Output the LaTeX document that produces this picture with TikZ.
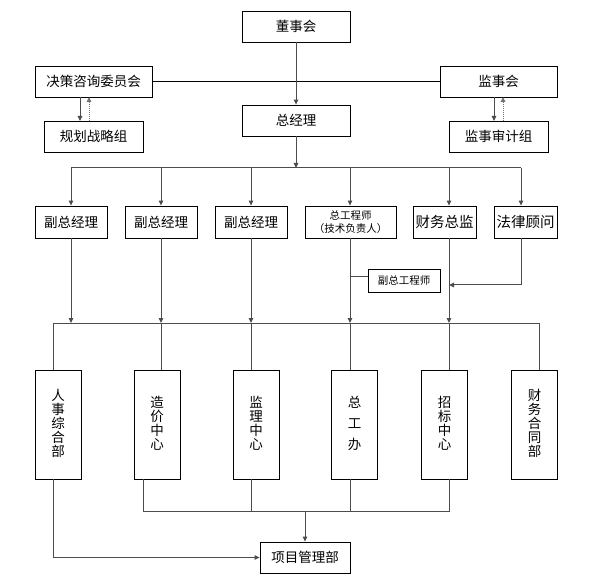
\documentclass[tikz,border=0pt]{standalone}
\usepackage{fontspec}
\setmainfont{Noto Sans CJK SC}
\usetikzlibrary{arrows.meta}
\newcommand\vc[3]{\raisebox{0pt}[#1][#2]{#3}}
\newcommand\vstack[1]{\vbox{\offinterlineskip\halign{\hfil##\hfil\cr #1\crcr}}}
\begin{document}
\begin{tikzpicture}[x=1pt,y=-1pt,
  box/.style={draw=black,line width=0.8pt,inner sep=0pt,align=center,font=\fontsize{13.5}{15}\selectfont},
  vbox/.style={draw=black,line width=0.8pt,inner sep=0pt,minimum width=46pt,minimum height=109pt,font=\fontsize{13.5}{14}\selectfont},
  small/.style={font=\fontsize{10.5}{13}\selectfont},
  conn/.style={draw=black!70,line width=1pt},
  arr/.style={conn,-{Triangle[length=5pt,width=4.5pt]}},
  darr/.style={draw=black!55,line width=1pt,densely dotted,-{Triangle[length=5pt,width=4.5pt]}}]
\useasboundingbox[fill=white] (0,0) rectangle (592,588);

% top level
\node[box,minimum width=108pt,minimum height=31pt] (dsh) at (296,26.5) {董事会};
\node[box,minimum width=117pt,minimum height=31pt] (jc) at (93.5,81.5) {决策咨询委员会};
\node[box,minimum width=99pt,minimum height=31pt] (gh) at (93.5,136.5) {规划战略组};
\node[box,minimum width=117pt,minimum height=31pt] (js) at (498.5,81.5) {监事会};
\node[box,minimum width=99pt,minimum height=31pt] (sj) at (498.5,136.5) {监事审计组};
\node[box,minimum width=108pt,minimum height=31pt] (zjl) at (296,120.5) {总经理};

% second level
\node[box,minimum width=72pt,minimum height=32pt] (f1) at (71,222) {副总经理};
\node[box,minimum width=72pt,minimum height=32pt] (f2) at (161,222) {副总经理};
\node[box,minimum width=72pt,minimum height=32pt] (f3) at (251,222) {副总经理};
\node[box,small,minimum width=91pt,minimum height=32pt] (zgc) at (350.5,222) {总工程师\\（技术负责人）};
\node[box,minimum width=63pt,minimum height=32pt,font=\fontsize{14.5}{16}\selectfont] (cw) at (444.5,222) {财务总监};
\node[box,minimum width=63pt,minimum height=32pt,font=\fontsize{14.5}{16}\selectfont] (fl) at (525.5,222) {法律顾问};
\node[box,small,minimum width=72pt,minimum height=23pt] (fzg) at (404,280.5) {副总工程师};

% bottom level
\node[vbox] (rs) at (58,424.5) {\vstack{\vc{11pt}{3pt}{人}\cr\vc{11pt}{3pt}{事}\cr\vc{11pt}{3pt}{综}\cr\vc{11pt}{3pt}{合}\cr\vc{11pt}{3pt}{部}}};
\node[vbox] (zj) at (157,424.5) {\vstack{\vc{11pt}{3pt}{造}\cr\vc{11pt}{3pt}{价}\cr\vc{11pt}{3pt}{中}\cr\vc{11pt}{3pt}{心}}};
\node[vbox] (jl) at (256,424.5) {\vstack{\vc{11pt}{3pt}{监}\cr\vc{11pt}{3pt}{理}\cr\vc{11pt}{3pt}{中}\cr\vc{11pt}{3pt}{心}}};
\node[vbox] (zgb) at (354.5,424.5) {\vstack{\vc{14.5pt}{6.5pt}{总}\cr\vc{14.5pt}{6.5pt}{工}\cr\vc{14.5pt}{6.5pt}{办}}};
\node[vbox] (zb) at (444.5,424.5) {\vstack{\vc{11pt}{3pt}{招}\cr\vc{11pt}{3pt}{标}\cr\vc{11pt}{3pt}{中}\cr\vc{11pt}{3pt}{心}}};
\node[vbox] (cwh) at (534.5,424.5) {\vstack{\vc{11pt}{3pt}{财}\cr\vc{11pt}{3pt}{务}\cr\vc{11pt}{3pt}{合}\cr\vc{11pt}{3pt}{同}\cr\vc{11pt}{3pt}{部}}};
\node[box,minimum width=90pt,minimum height=31pt] (xm) at (305,557.5) {项目管理部};

% top connectors
\draw[line width=1pt] (jc.east) -- (js.west);
\draw[arr] (dsh.south) -- (zjl.north);
\coordinate (t0) at (296,168);
\draw[arr] (zjl.south) -- (t0);
\coordinate (t1) at (71,168);
\coordinate (t2) at (161,168);
\coordinate (t3) at (251,168);
\coordinate (t4) at (350,168);
\coordinate (t5) at (449,168);
\coordinate (t6) at (521,168);
\draw[conn] (t1) -- (t6);
\draw[arr] (t1) -- (t1 |- f1.north);
\draw[arr] (t2) -- (t2 |- f2.north);
\draw[arr] (t3) -- (t3 |- f3.north);
\draw[arr] (t4) -- (t4 |- zgc.north);
\draw[arr] (t5) -- (t5 |- cw.north);
\draw[arr] (t6) -- (t6 |- fl.north);

% side groups
\draw[arr] (80,97) -- (80,121);
\draw[darr] (89,121) -- (89,97);
\draw[arr] (494,97) -- (494,121);
\draw[darr] (503,121) -- (503,97);

% middle bus
\coordinate (m0) at (53,323);
\coordinate (m1) at (71,323);
\coordinate (m2) at (161,323);
\coordinate (m3) at (251,323);
\coordinate (m4) at (350,323);
\coordinate (m5) at (449,323);
\coordinate (m6) at (539,323);
\draw[conn] (m0) -- (m6);
\draw[arr] (t1 |- f1.south) -- (m1);
\draw[arr] (t2 |- f2.south) -- (m2);
\draw[arr] (t3 |- f3.south) -- (m3);
\draw[arr] (t4 |- zgc.south) -- (m4);
\draw[arr] (t5 |- cw.south) -- (m5);
\draw[conn] (350,277) -- (fzg.west |- 350,277);
\coordinate (lj) at (449,285);
\draw[arr] (t6 |- fl.south) |- (lj);

\draw[conn] (m0) -- (m0 |- rs.north);
\draw[conn] (m2) -- (m2 |- zj.north);
\draw[conn] (m3) -- (m3 |- jl.north);
\draw[conn] (m4) -- (m4 |- zgb.north);
\draw[conn] (m5) -- (m5 |- zb.north);
\draw[conn] (m6) -- (m6 |- cwh.north);

% bottom bus
\coordinate (b2) at (143,511);
\coordinate (b3) at (251,511);
\coordinate (b4) at (350,511);
\coordinate (b5) at (449,511);
\coordinate (bx) at (305,511);
\draw[conn] (b2 |- zj.south) -- (b2) -- (b5) -- (b5 |- zb.south);
\draw[conn] (b3 |- jl.south) -- (b3);
\draw[conn] (b4 |- zgb.south) -- (b4);
\draw[arr] (bx) -- (xm.north);
\draw[arr] (m0 |- rs.south) |- (xm.west);
\end{tikzpicture}
\end{document}
